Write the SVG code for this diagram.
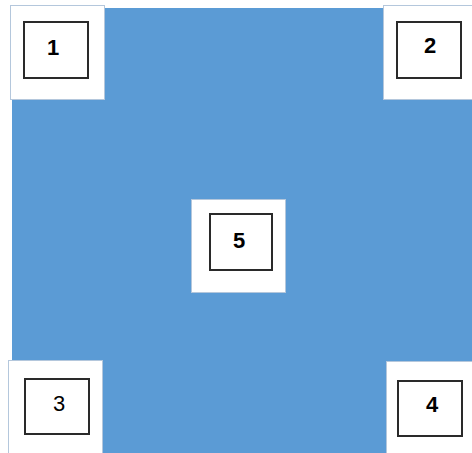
<svg xmlns="http://www.w3.org/2000/svg" width="472" height="453" viewBox="0 0 472 453">
<style>
.outer{fill:#fff;stroke:#b4c7dc;stroke-width:1}
.inner{fill:#fff;stroke:#2a2a2a;stroke-width:2}
.lbl{font-family:"Liberation Sans",Arial,sans-serif;font-weight:bold;font-size:22px;fill:#000;text-anchor:middle}
.thin{font-weight:normal}
</style>
<rect x="12" y="8" width="460" height="445" fill="#5b9bd5"/>
<g id="connectors"/>
<g id="node1">
<rect class="outer" x="10.5" y="5.5" width="94" height="94"/>
<rect class="inner" x="24" y="22" width="64" height="56"/>
<text class="lbl" x="53" y="55">1</text>
</g>
<g id="node2">
<rect class="outer" x="383.5" y="5.5" width="94" height="94"/>
<rect class="inner" x="397" y="22" width="64" height="56"/>
<text class="lbl" x="430" y="53">2</text>
</g>
<g id="node5">
<rect class="outer" x="191.5" y="199.5" width="94" height="93"/>
<rect class="inner" x="210" y="214" width="62" height="56"/>
<text class="lbl" x="239" y="248">5</text>
</g>
<g id="node3">
<rect class="outer" x="8.5" y="360.5" width="94" height="98"/>
<rect class="inner" x="25" y="379" width="64" height="55"/>
<text class="lbl thin" x="59" y="411">3</text>
</g>
<g id="node4">
<rect class="outer" x="386.5" y="361.5" width="94" height="98"/>
<rect class="inner" x="398" y="381" width="64" height="55"/>
<text class="lbl" x="432" y="412">4</text>
</g>
</svg>
